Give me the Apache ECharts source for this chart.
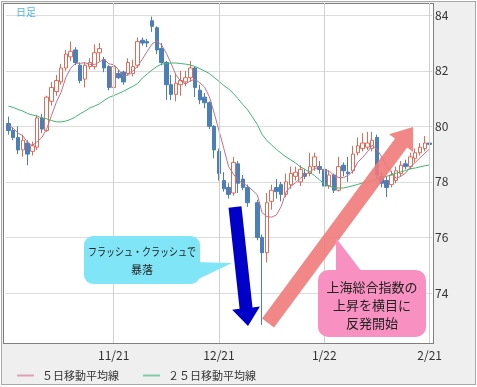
<!DOCTYPE html>
<html><head><meta charset="utf-8">
<script src="https://cdn.jsdelivr.net/npm/echarts@6/dist/echarts.min.js"></script>
<style>
body{margin:0;background:#fff;}
#outer{position:absolute;left:1px;top:1px;width:475px;height:384px;box-sizing:border-box;border:1px solid #a8a8a8;background:#efefef;}
#plot{position:absolute;left:3px;top:3px;width:431px;height:341px;box-sizing:border-box;border:1px solid #808080;background:#fff;}
#chart{position:absolute;left:0;top:0;width:477px;height:387px;}
</style></head>
<body>
<div id="outer"></div><div id="plot"></div><div id="chart"></div>
<script>
const categories = ['10/22','10/23','10/24','10/25','10/26','10/29','10/30','10/31',
 '11/1','11/2','11/5','11/6','11/7','11/8','11/9','11/12','11/13','11/14','11/15','11/16','11/19','11/20',
 '11/21','11/22','11/23','11/26','11/27','11/28','11/29','11/30',
 '12/3','12/4','12/5','12/6','12/7','12/10','12/11','12/12','12/13','12/14','12/17','12/18','12/19','12/20','12/21',
 '12/24','12/25','12/26','12/27','12/28','12/31',
 '1/1','1/2','1/3','1/4','1/7','1/8','1/9','1/10','1/11','1/14','1/15','1/16','1/17','1/18','1/21','1/22',
 '1/23','1/24','1/25','1/28','1/29','1/30','1/31','2/1','2/4','2/5','2/6','2/7','2/8',
 '2/11','2/12','2/13','2/14','2/15','2/18','2/19','2/20','2/21'];
const tickLabels = ['11/21','12/21','1/22','2/21'];
const yTicks = [74,76,78,80,82,84];

const opens = [80.1,79.85,79.6,79.15,79.4,79.1,79.25,80.3,79.85,80.9,
 81.25,81.6,82.1,82.5,82.75,82.2,81.7,82.15,82.15,82.65,
 82.4,82.15,81.4,81.9,81.95,81.9,81.9,82.2,83.1,83.05,
 83.8,83.55,82.8,82.3,81.5,81.15,81.5,81.6,81.75,82.1,
 81.3,81.05,80.85,80.0,79.1,78.05,77.8,77.6,78.65,78.1,
 77.8,null,77.25,76.0,75.45,77.3,77.8,77.9,77.55,77.9,
 78.2,78.0,78.3,78.3,78.55,78.55,78.45,77.85,78.25,77.7,
 78.6,78.35,78.4,79.05,79.2,79.25,79.2,79.6,78.2,78.05,
 77.9,78.05,78.3,78.65,78.55,78.85,79.05,79.2,79.4];
const closes = [79.85,79.6,79.15,79.5,79.0,79.3,80.3,79.9,81.05,81.4,
 81.65,82.1,82.6,82.7,82.3,81.65,82.2,82.3,82.65,82.8,
 82.1,81.4,82.15,81.75,81.6,82.3,82.15,83.05,83.0,83.0,
 83.6,82.75,82.3,81.5,81.15,81.55,81.65,81.75,82.1,81.4,
 80.95,80.85,80.0,79.15,78.3,77.75,77.55,78.7,77.95,77.8,
 77.25,null,76.0,75.45,77.25,77.7,77.65,77.55,78.0,78.3,
 78.35,78.45,78.2,78.55,78.9,78.45,77.85,78.25,77.7,78.55,
 78.4,78.3,79.0,79.3,79.4,79.4,79.5,78.25,77.95,77.8,
 78.25,78.4,78.6,78.55,78.9,79.05,79.25,79.4,79.35];
const lows = [79.7,79.5,79.0,78.9,78.6,78.95,79.15,79.75,79.8,80.75,
 81.1,81.5,82.0,82.35,82.2,81.55,81.4,82.05,82.05,82.35,
 81.95,81.3,81.2,81.7,81.5,81.85,81.8,82.1,82.9,82.85,
 83.4,82.6,82.2,80.95,80.95,80.9,81.1,81.45,81.6,81.05,
 80.8,80.65,79.9,78.85,78.05,77.65,77.4,77.5,77.6,77.7,
 77.1,null,75.9,72.85,75.1,77.0,77.4,77.3,77.45,77.75,
 78.05,77.85,78.1,78.2,78.4,78.3,77.8,77.75,77.6,77.65,
 78.2,78.0,78.3,78.95,79.1,79.15,79.1,78.1,77.8,77.45,
 77.8,77.95,78.2,78.45,78.45,78.7,78.95,79.1,79.2];
const highs = [80.35,79.95,80.0,79.7,79.5,79.45,80.4,80.45,81.1,81.6,
 81.85,82.25,82.75,83.05,82.85,82.3,82.3,82.45,82.95,83.0,
 82.5,82.2,82.2,82.05,82.0,82.45,82.4,83.2,83.2,83.15,
 83.95,83.6,83.0,82.35,81.85,81.9,82.0,82.0,82.35,82.15,
 81.5,81.2,80.9,80.05,79.2,78.35,77.95,78.9,78.75,78.25,
 77.9,null,77.35,76.1,77.6,77.9,78.1,78.0,78.3,78.55,
 78.55,78.6,78.45,79.05,79.05,78.75,78.5,78.4,78.3,78.9,
 78.7,78.9,79.3,79.6,79.75,79.8,79.8,79.7,78.35,78.2,
 78.4,78.55,78.75,78.8,79.05,79.2,79.4,79.65,79.8];
const priorCloses = [80.2,80.0,80.0,80.2];
const ma25 = [80.73,80.68,80.61,80.55,80.46,80.41,80.37,80.30,80.27,80.21,
 80.16,80.16,80.19,80.25,80.34,80.45,80.55,80.66,80.73,80.81,
 80.93,81.04,81.11,81.18,81.26,81.35,81.44,81.54,81.74,81.88,
 82.03,82.15,82.24,82.26,82.28,82.28,82.26,82.24,82.21,82.15,
 82.08,81.99,81.90,81.76,81.62,81.47,81.35,81.18,80.99,80.78,
 80.59,null,80.07,79.71,79.49,79.33,79.17,79.03,78.90,78.79,
 78.68,78.54,78.45,78.34,78.22,78.07,77.93,77.86,77.78,77.78,
 77.78,77.82,77.86,77.91,77.96,78.00,78.05,78.11,78.14,78.20,
 78.25,78.31,78.36,78.41,78.47,78.50,78.54,78.58,78.61];
const seriesNames = ['５日移動平均線','２５日移動平均線'];

const candleData = opens.map((o,i)=> o==null ? '-' : [o, closes[i], lows[i], highs[i]]);
// 5-day moving average of the closes
const ma5 = (function(){
  const hist = priorCloses.slice(); const out = [];
  closes.forEach(c=>{
    if (c==null){ out.push('-'); return; }
    hist.push(c);
    const last = hist.slice(-5);
    out.push(+(last.reduce((a,b)=>a+b,0)/5).toFixed(3));
  });
  return out;
})();

const FONT = '"Noto Sans CJK JP", "Noto Sans", sans-serif';
const chart = echarts.init(document.getElementById('chart'), null, {renderer:'canvas'});

function arrow(S, T, hw, headHw, headLen){
  const dx=T[0]-S[0], dy=T[1]-S[1], L=Math.hypot(dx,dy);
  const u=[dx/L,dy/L], n=[-u[1],u[0]];
  const E=[T[0]-u[0]*headLen, T[1]-u[1]*headLen];
  const p=(P,k)=>[P[0]+n[0]*k, P[1]+n[1]*k];
  return [p(S,hw),p(E,hw),p(E,headHw),T,p(E,-headHw),p(E,-hw),p(S,-hw)];
}

const option = {
  animation:false,
  backgroundColor:'transparent',
  grid:{left:6, right:45, top:3, bottom:44, show:false},
  xAxis:{
    type:'category', data:categories, boundaryGap:true,
    axisLine:{show:false}, axisTick:{show:false}, splitLine:{show:false},
    axisLabel:{interval:(i,v)=>tickLabels.includes(v), color:'#333', fontSize:12, margin:6, fontFamily:FONT}
  },
  yAxis:{
    type:'value', position:'right', min:72.2, max:84.44, minInterval:2, maxInterval:2, scale:true,
    axisLine:{show:false}, axisTick:{show:false},
    axisLabel:{showMinLabel:false, showMaxLabel:false, color:'#333', fontSize:12, margin:3, fontFamily:FONT,
      formatter:v=>yTicks.includes(v)?String(v):''},
    splitLine:{show:true, showMinLine:false, showMaxLine:false, lineStyle:{color:'#dcdcdc', width:1}}
  },
  legend:{
    left:12, top:365, icon:'rect', itemWidth:17, itemHeight:2, itemGap:24,
    textStyle:{color:'#333', fontSize:11, fontFamily:FONT, padding:[0,0,0,3]},
    data:[
      {name:seriesNames[0], itemStyle:{color:'#d9a3b4'}},
      {name:seriesNames[1], itemStyle:{color:'#7fcda5'}}
    ]
  },
  series:[
    {type:'line', data:[], z:1, silent:true,
     markLine:{silent:true, symbol:'none', label:{show:false}, animation:false,
       lineStyle:{color:'#d0d0d0', type:'solid', width:1},
       data:tickLabels.map(t=>({xAxis:t}))}},
    {type:'candlestick', data:candleData, barWidth:4, z:3,
     itemStyle:{color:'#ffffff', color0:'#4a7fb8', borderColor:'#de6b57', borderColor0:'#4a7fb8', borderWidth:1}},
    {name:seriesNames[0], type:'line', data:ma5, symbol:'none', showSymbol:false, connectNulls:true, z:4,
     lineStyle:{color:'#c46f86', width:1}, itemStyle:{color:'#d9a3b4'}},
    {name:seriesNames[1], type:'line', data:ma25, symbol:'none', showSymbol:false, connectNulls:true, z:4,
     lineStyle:{color:'#3fb56f', width:1}, itemStyle:{color:'#7fcda5'}}
  ],
  graphic:[
    {type:'text', x:16, y:12, z:10, style:{text:'日足', x:0, y:0, fill:'#55b5e0', font:'10px '+FONT, align:'left', verticalAlign:'middle', textAlign:'left', textVerticalAlign:'middle'}},
    // cyan callout
    {type:'polygon', z:20, shape:{points:[[194,262],[232,263],[190,283]]}, style:{fill:'#80e6f7'}},
    {type:'rect', z:20, shape:{x:84, y:236, width:116, height:48, r:9}, style:{fill:'#80e6f7'}},
    {type:'text', z:21, x:142, y:252, scaleX:0.82, style:{text:'フラッシュ・クラッシュで', x:0, y:0, fill:'#222', font:'11px '+FONT, align:'center', verticalAlign:'middle', textAlign:'center', textVerticalAlign:'middle'}},
    {type:'text', z:21, x:142, y:270, style:{text:'暴落', x:0, y:0, fill:'#222', font:'11px '+FONT, align:'center', verticalAlign:'middle', textAlign:'center', textVerticalAlign:'middle'}},
    // blue arrow
    {type:'polygon', z:20, shape:{points:arrow([235,207],[248,326],6.5,14,18)}, style:{fill:'#0000c8'}},
    // salmon arrow
    {type:'polygon', z:20, shape:{points:arrow([268,323],[413,127],7.5,15,20)}, style:{fill:'#f07a7a', opacity:0.9}},
    // pink callout
    {type:'polygon', z:20, shape:{points:[[336,272],[336,238],[362,272]]}, style:{fill:'#f891c2'}},
    {type:'rect', z:20, shape:{x:318, y:270, width:108, height:67, r:10}, style:{fill:'#f891c2'}},
    {type:'text', z:21, x:372, y:287, style:{text:'上海総合指数の', x:0, y:0, fill:'#222', font:'13px '+FONT, align:'center', verticalAlign:'middle', textAlign:'center', textVerticalAlign:'middle'}},
    {type:'text', z:21, x:372, y:305, style:{text:'上昇を横目に', x:0, y:0, fill:'#222', font:'13px '+FONT, align:'center', verticalAlign:'middle', textAlign:'center', textVerticalAlign:'middle'}},
    {type:'text', z:21, x:372, y:323, style:{text:'反発開始', x:0, y:0, fill:'#222', font:'13px '+FONT, align:'center', verticalAlign:'middle', textAlign:'center', textVerticalAlign:'middle'}}
  ]
};
chart.setOption(option);
</script>
</body></html>
